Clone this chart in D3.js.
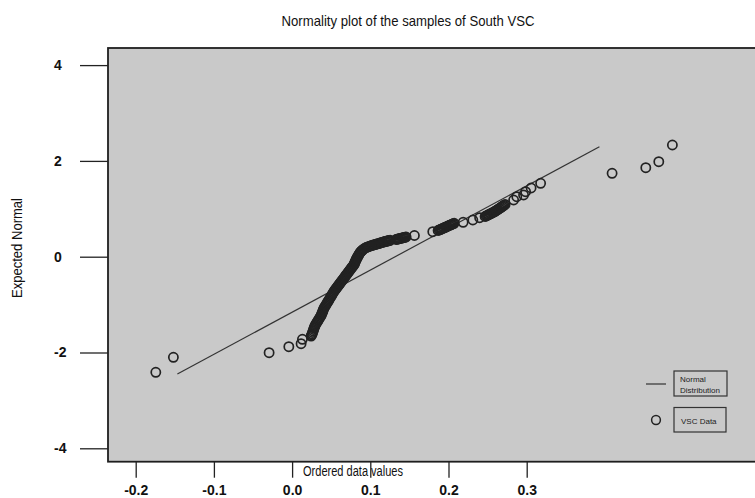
<!DOCTYPE html>
<html>
<head>
<meta charset="utf-8">
<script src="https://cdn.jsdelivr.net/npm/d3@7"></script>
<style>
body { margin: 0; background: #fff; }
svg { display: block; font-family: "Liberation Sans", Arial, sans-serif; }
</style>
</head>
<body>
<script>
// ordered sample values (x) and their expected normal scores (y)
var orderedValues = [
    -0.1743, -0.1518, -0.0294, -0.0042, 0.0115, 0.0132,
    // steep S shaped run, points overlap into a solid band
    0.0243, 0.0250, 0.0256, 0.0262, 0.0269, 0.0275, 0.0281, 0.0288, 0.0294, 0.0303,
    0.0313, 0.0322, 0.0332, 0.0342, 0.0352, 0.0361, 0.0371, 0.0378, 0.0384, 0.0390,
    0.0396, 0.0402, 0.0409, 0.0418, 0.0428, 0.0438, 0.0448, 0.0457, 0.0467, 0.0476,
    0.0486, 0.0495, 0.0505, 0.0514, 0.0524, 0.0533, 0.0543, 0.0553, 0.0563, 0.0572,
    0.0582, 0.0591, 0.0601, 0.0610, 0.0620, 0.0629, 0.0639, 0.0649, 0.0659, 0.0668,
    0.0678, 0.0687, 0.0697, 0.0706, 0.0716, 0.0725, 0.0735, 0.0744, 0.0754, 0.0764,
    0.0774, 0.0783, 0.0793, 0.0798, 0.0802, 0.0808, 0.0814, 0.0820, 0.0826, 0.0833,
    0.0840, 0.0847, 0.0854, 0.0862, 0.0870, 0.0878, 0.0887, 0.0897, 0.0908, 0.0921,
    0.0936, 0.0950, 0.0966, 0.0983, 0.1000, 0.1018, 0.1036, 0.1055, 0.1070, 0.1085,
    0.1100, 0.1112, 0.1125, 0.1138, 0.1151, 0.1163, 0.1176, 0.1189, 0.1202, 0.1215,
    0.1228, 0.1240, 0.1253,
    0.1330, 0.1343, 0.1355, 0.1368, 0.1381, 0.1394, 0.1407, 0.1420, 0.1432, 0.1445, 0.1458,
    0.1564, 0.1799,
    0.1867, 0.1880, 0.1893, 0.1905, 0.1918, 0.1931, 0.1944, 0.1957, 0.1969, 0.1982,
    0.1995, 0.2008, 0.2020, 0.2033, 0.2046, 0.2059, 0.2072,
    0.2187, 0.2311, 0.2398,
    0.2468, 0.2481, 0.2494, 0.2506, 0.2519, 0.2532, 0.2545, 0.2557, 0.2570, 0.2583,
    0.2596, 0.2608, 0.2621, 0.2634, 0.2647, 0.2660, 0.2673, 0.2685, 0.2698, 0.2711, 0.2724,
    0.2833, 0.2873, 0.2960, 0.2986, 0.3056, 0.3178,
    0.4092, 0.4523, 0.4689, 0.4863
]
var expectedNormal = [
    -2.413, -2.100, -2.004, -1.879, -1.816, -1.724,
    -1.656, -1.635, -1.614, -1.582, -1.551, -1.520, -1.489, -1.462, -1.436, -1.410,
    -1.384, -1.358, -1.332, -1.306, -1.280, -1.254, -1.228, -1.201, -1.175, -1.149,
    -1.123, -1.097, -1.071, -1.045, -1.019, -0.993, -0.967, -0.940, -0.914, -0.888,
    -0.862, -0.836, -0.810, -0.784, -0.758, -0.732, -0.706, -0.685, -0.664, -0.643,
    -0.622, -0.601, -0.580, -0.560, -0.539, -0.518, -0.497, -0.476, -0.455, -0.434,
    -0.413, -0.392, -0.372, -0.351, -0.330, -0.309, -0.288, -0.267, -0.246, -0.225,
    -0.205, -0.184, -0.163, -0.142, -0.121, -0.100, -0.079, -0.058, -0.038, -0.017,
    0.004, 0.025, 0.046, 0.067, 0.088, 0.103, 0.119, 0.134, 0.150, 0.166,
    0.182, 0.192, 0.203, 0.213, 0.223, 0.233, 0.244, 0.251, 0.259, 0.266,
    0.273, 0.279, 0.286, 0.292, 0.299, 0.305, 0.311, 0.316, 0.322, 0.327,
    0.332, 0.337, 0.342,
    0.359, 0.365, 0.370, 0.375, 0.380, 0.385, 0.390, 0.396, 0.401, 0.406, 0.411,
    0.443, 0.522,
    0.547, 0.557, 0.566, 0.576, 0.585, 0.594, 0.603, 0.613, 0.622, 0.632,
    0.641, 0.651, 0.660, 0.669, 0.678, 0.688, 0.697,
    0.718, 0.766, 0.814,
    0.839, 0.850, 0.860, 0.871, 0.881, 0.892, 0.902, 0.913, 0.923, 0.936,
    0.948, 0.962, 0.975, 0.989, 1.002, 1.017, 1.031, 1.046, 1.061, 1.076, 1.090,
    1.184, 1.253, 1.288, 1.357, 1.434, 1.532,
    1.741, 1.858, 1.983, 2.332
]
if (orderedValues.length !== expectedNormal.length) throw new Error('length mismatch ' + orderedValues.length + ' vs ' + expectedNormal.length)

// fitted normal distribution line (end points)
var normalLineX = [-0.1467, 0.3930]
var normalLineY = [-2.449, 2.296]

var xTicks = [-0.2, -0.1, 0.0, 0.1, 0.2, 0.3]
var yTicks = [-4, -2, 0, 2, 4]

var title = 'Normality plot of the samples of South VSC'
var xLabel = 'Ordered data values'
var yLabel = 'Expected Normal'
var legendLine = ['Normal', 'Distribution']
var legendDots = ['VSC Data']

var W = 755, H = 498
var frame = {left: 108, top: 48, bottom: 461.7}
var ink = '#222'

var xScale = d3.scaleLinear().domain([-0.2, 0.3]).range([135.7, 526.7])
var yScale = d3.scaleLinear().domain([-4, 4]).range([448.3, 65.1])

var svg = d3.select('body').append('svg')
    .attr('width', W)
    .attr('height', H)

// grey plotting panel (runs off the right edge like the original)
svg.append('rect')
    .attr('x', frame.left)
    .attr('y', frame.top)
    .attr('width', W - frame.left + 20)
    .attr('height', frame.bottom - frame.top)
    .attr('fill', '#c9c9c9')
    .attr('stroke', '#1e1e1e')
    .attr('stroke-width', 1.8)

svg.append('text')
    .attr('x', 408)
    .attr('y', 26)
    .attr('text-anchor', 'middle')
    .attr('font-size', '15px')
    .attr('fill', '#111')
    .attr('textLength', 253)
    .attr('lengthAdjust', 'spacingAndGlyphs')
    .text(title)

// normal line
var pts = normalLineX.map(function(d, i) { return [d, normalLineY[i]] })
svg.append('path')
    .datum(pts)
    .attr('fill', 'none')
    .attr('stroke', '#333')
    .attr('stroke-width', 1.2)
    .attr('d', d3.line()
        .x(function(d) { return xScale(d[0]) })
        .y(function(d) { return yScale(d[1]) }))

// sample points
svg.append('g')
    .selectAll('circle')
    .data(orderedValues)
    .enter()
    .append('circle')
    .attr('cx', function(d) { return xScale(d) })
    .attr('cy', function(d, i) { return yScale(expectedNormal[i]) })
    .attr('r', 4.6)
    .attr('fill', 'none')
    .attr('stroke', ink)
    .attr('stroke-width', 1.7)

// y axis, ticks sit outside the panel
var yAxis = svg.append('g')
    .attr('transform', 'translate(' + frame.left + ',0)')
    .call(d3.axisLeft(yScale).tickValues(yTicks).tickSize(28).tickFormat(function(d) { return String(d) }))
yAxis.select('.domain').remove()
yAxis.selectAll('line').attr('stroke', ink).attr('stroke-width', 1.3)
yAxis.attr('font-size', 14).attr('font-weight', 'bold').attr('font-family', null)
yAxis.selectAll('text')
    .attr('x', -54)
    .attr('text-anchor', 'start')
    .attr('fill', '#111')

var xAxis = svg.append('g')
    .attr('transform', 'translate(0,' + frame.bottom + ')')
    .call(d3.axisBottom(xScale).tickValues(xTicks).tickSize(16).tickPadding(7).tickFormat(function(d) { return d.toFixed(1) }))
xAxis.select('.domain').remove()
xAxis.selectAll('line').attr('stroke', ink).attr('stroke-width', 1.3)
xAxis.attr('font-size', 14).attr('font-weight', 'bold').attr('font-family', null)
xAxis.selectAll('text').attr('fill', '#111')

svg.append('text')
    .attr('x', 353)
    .attr('y', 476)
    .attr('text-anchor', 'middle')
    .attr('font-size', '14px')
    .attr('fill', '#111')
    .attr('textLength', 100)
    .attr('lengthAdjust', 'spacingAndGlyphs')
    .text(xLabel)

svg.append('text')
    .attr('transform', 'translate(22,248) rotate(-90)')
    .attr('text-anchor', 'middle')
    .attr('font-size', '14px')
    .attr('fill', '#111')
    .attr('textLength', 100)
    .attr('lengthAdjust', 'spacingAndGlyphs')
    .text(yLabel)

// legend
var legend = svg.append('g').attr('transform', 'translate(646,371)')

legend.append('line')
    .attr('x1', 0).attr('x2', 20)
    .attr('y1', 13).attr('y2', 13)
    .attr('stroke', '#333')
    .attr('stroke-width', 1.2)
legend.append('rect')
    .attr('x', 28).attr('y', 0)
    .attr('width', 53).attr('height', 25)
    .attr('fill', 'none')
    .attr('stroke', '#333')
    .attr('stroke-width', 1.2)
legend.selectAll('.ln')
    .data(legendLine)
    .enter()
    .append('text')
    .attr('class', 'ln')
    .attr('x', 34)
    .attr('y', function(d, i) { return 11 + i * 10.5 })
    .attr('font-size', '8px')
    .attr('fill', '#222')
    .text(function(d) { return d })

legend.append('circle')
    .attr('cx', 10).attr('cy', 49)
    .attr('r', 4.4)
    .attr('fill', 'none')
    .attr('stroke', ink)
    .attr('stroke-width', 1.5)
legend.append('rect')
    .attr('x', 28).attr('y', 36.5)
    .attr('width', 52).attr('height', 24.5)
    .attr('fill', 'none')
    .attr('stroke', '#333')
    .attr('stroke-width', 1.2)
legend.append('text')
    .attr('x', 35)
    .attr('y', 52.5)
    .attr('font-size', '8px')
    .attr('fill', '#222')
    .text(legendDots[0])
</script>
</body>
</html>
